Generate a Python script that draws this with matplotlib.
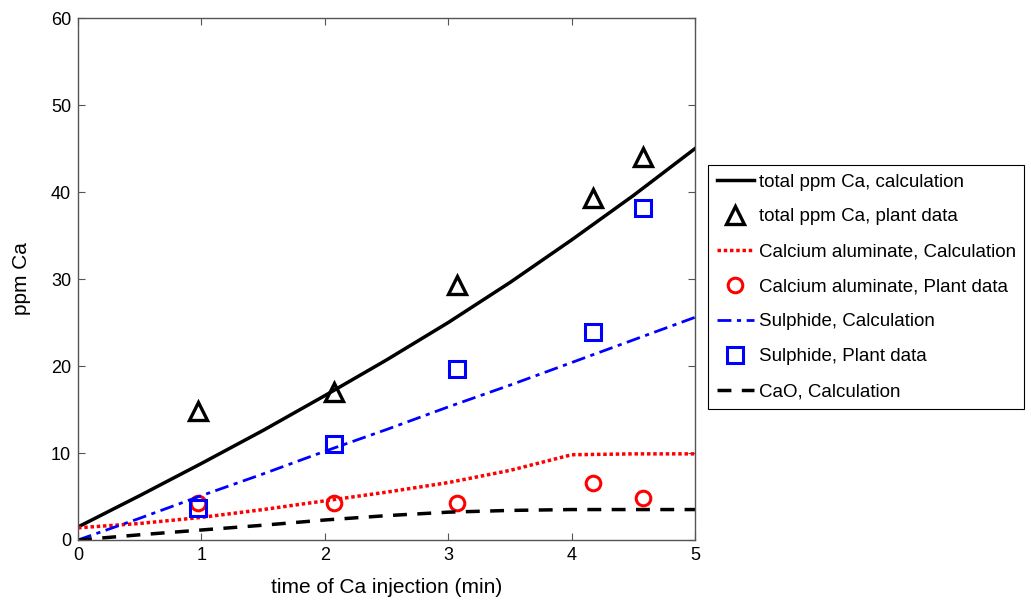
import matplotlib
matplotlib.use("Agg")
import matplotlib.pyplot as plt

plt.rcParams['font.family'] = ['Liberation Sans', 'DejaVu Sans']

# Calculation curves
x_calc = [0, 0.5, 1, 1.5, 2, 2.5, 3, 3.5, 4, 4.5, 5]
total_calc = [1.5, 5.1, 8.8, 12.6, 16.6, 20.7, 25.0, 29.6, 34.5, 39.6, 45.0]
alum_calc = [1.4, 1.9, 2.6, 3.5, 4.5, 5.5, 6.6, 8.0, 9.8, 9.9, 9.9]
sulph_calc = [0.0, 2.5, 5.1, 7.6, 10.2, 12.7, 15.3, 17.8, 20.4, 23.0, 25.6]
cao_calc = [0.0, 0.6, 1.15, 1.7, 2.3, 2.8, 3.2, 3.4, 3.5, 3.5, 3.5]

# Plant data
x_plant = [0.97, 2.07, 3.07, 4.17, 4.58]
total_plant = [14.8, 17.0, 29.3, 39.3, 44.0]
alum_plant = [4.2, 4.3, 4.2, 6.6, 4.8]
sulph_plant = [3.7, 11.0, 19.7, 23.9, 38.2]

fig = plt.figure(figsize=(10.31, 6.01), dpi=100)
ax = fig.add_axes([0.0757, 0.1015, 0.5985, 0.8685])

ax.plot(x_calc, total_calc, color='black', lw=2.5, label='total ppm Ca, calculation')
ax.plot(x_plant, total_plant, linestyle='none', marker='^', ms=13, mfc='none',
        mec='black', mew=2.4, label='total ppm Ca, plant data')
ax.plot(x_calc, alum_calc, color='red', lw=2.5, linestyle=(0, (1, 0.8)),
        label='Calcium aluminate, Calculation')
ax.plot(x_plant, alum_plant, linestyle='none', marker='o', ms=10.5, mfc='none',
        mec='red', mew=2.2, label='Calcium aluminate, Plant data')
ax.plot(x_calc, sulph_calc, color='blue', lw=2, linestyle=(0, (5, 2, 1.5, 2)),
        label='Sulphide, Calculation')
ax.plot(x_plant, sulph_plant, linestyle='none', marker='s', ms=11.5, mfc='none',
        mec='blue', mew=2.2, label='Sulphide, Plant data')
ax.plot(x_calc, cao_calc, color='black', lw=2.5, linestyle=(0, (4, 3)),
        label='CaO, Calculation')

ax.set_xlim(0, 5)
ax.set_ylim(0, 60)
ax.set_xticks([0, 1, 2, 3, 4, 5])
ax.set_yticks([0, 10, 20, 30, 40, 50, 60])
ax.tick_params(direction='in', top=True, right=True, labelsize=13, length=5,
               color='#555555', pad=5)
for s in ax.spines.values():
    s.set_color('#555555')
    s.set_linewidth(1)
ax.set_xlabel('time of Ca injection (min)', fontsize=15, labelpad=10)
ax.set_ylabel('ppm Ca', fontsize=15, labelpad=14)

leg = fig.legend(loc='upper left', bbox_to_anchor=(0.687, 0.7255), fontsize=13.5,
                 frameon=True, fancybox=False, edgecolor='black', framealpha=1,
                 borderpad=0.45, labelspacing=0.95, handlelength=2.0,
                 handletextpad=0.25, borderaxespad=0)
leg.get_frame().set_linewidth(0.8)

fig.savefig('out.png', dpi=100)
